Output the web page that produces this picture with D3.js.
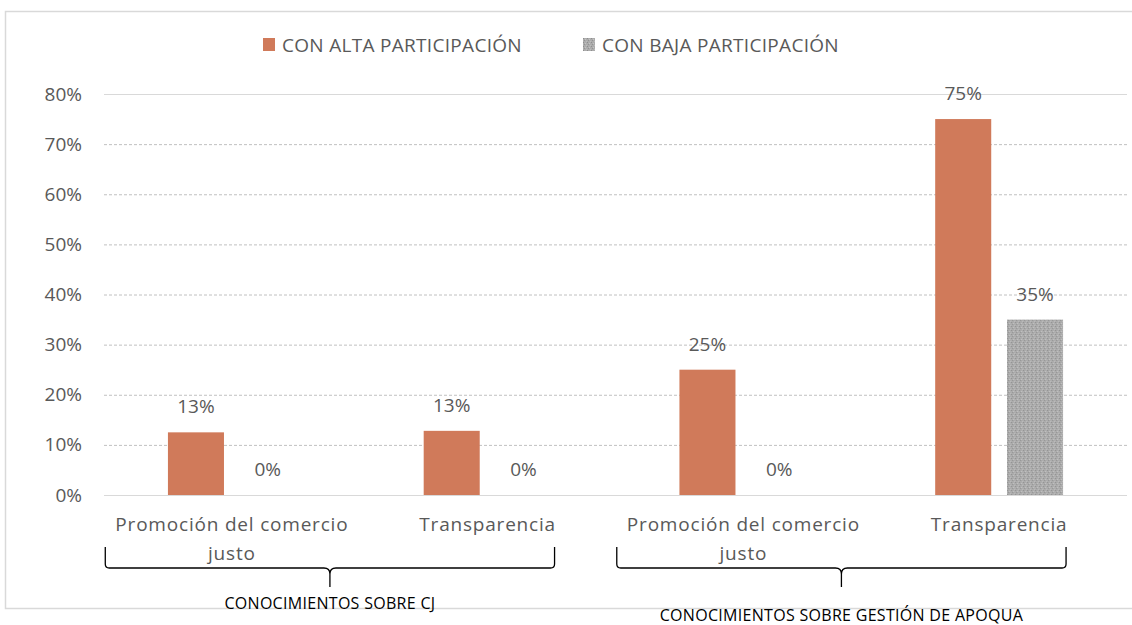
<!DOCTYPE html>
<html>
<head>
<meta charset="utf-8">
<script src="https://cdn.jsdelivr.net/npm/d3@7"></script>
<style>
  body { margin: 0; background: #fff; }
  text { font-family: "Open Sans", "Noto Sans", sans-serif; }
</style>
</head>
<body>
<div id="chart"></div>
<script>
// data
var categories = ["Promoción del comercio justo", "Transparencia", "Promoción del comercio justo ", "Transparencia "];
var seriesNames = ["CON ALTA PARTICIPACIÓN", "CON BAJA PARTICIPACIÓN"];
var altaValues = [0.125, 0.128, 0.25, 0.75];
var bajaValues = [0, 0, 0, 0.35];
var yTicks = [0, 0.1, 0.2, 0.3, 0.4, 0.5, 0.6, 0.7, 0.8];
var groups = [
  { name: "CONOCIMIENTOS SOBRE CJ", from: 0, to: 1 },
  { name: "CONOCIMIENTOS SOBRE GESTIÓN DE APOQUA", from: 2, to: 3 }
];

var W = 1132, H = 625;
var margin = { top: 94, right: 5, bottom: 130, left: 104 };
var width = W - margin.left - margin.right;
var height = H - margin.top - margin.bottom;
var colors = ["#d07a5a", "url(#grayDots)"];

var svg = d3.select("#chart").append("svg")
  .attr("width", W).attr("height", H);

// dotted texture for the grey series
var defs = svg.append("defs");
var pat = defs.append("pattern")
  .attr("id", "grayDots")
  .attr("patternUnits", "userSpaceOnUse")
  .attr("width", 4).attr("height", 4);
pat.append("rect").attr("width", 4).attr("height", 4).attr("fill", "#acacac");
pat.append("rect").attr("x", 0).attr("y", 0).attr("width", 1).attr("height", 1).attr("fill", "#8e8e8e");
pat.append("rect").attr("x", 2).attr("y", 1).attr("width", 1).attr("height", 1).attr("fill", "#c4c4c4");
pat.append("rect").attr("x", 1).attr("y", 2).attr("width", 1).attr("height", 1).attr("fill", "#939393");
pat.append("rect").attr("x", 3).attr("y", 3).attr("width", 1).attr("height", 1).attr("fill", "#bdbdbd");

// chart frame
svg.append("rect")
  .attr("x", 5.5).attr("y", 11.5)
  .attr("width", W).attr("height", 597)
  .attr("fill", "none").attr("stroke", "#d9d9d9").attr("stroke-width", 1.5);

var g = svg.append("g")
  .attr("transform", "translate(" + margin.left + "," + margin.top + ")");

var x0 = d3.scaleBand()
  .domain(categories)
  .range([0, width])
  .paddingInner(0.5)
  .paddingOuter(0.25);

var x1 = d3.scaleBand()
  .domain(seriesNames)
  .range([0, x0.bandwidth()])
  .paddingInner(0.22);

var y = d3.scaleLinear()
  .domain([0, 0.8])
  .range([height, 0]);

// y axis with gridlines
var yAxis = d3.axisLeft(y)
  .tickValues(yTicks)
  .tickFormat(d3.format(".0%"))
  .tickSize(-width)
  .tickPadding(22);

g.append("g")
  .attr("class", "y axis")
  .call(yAxis)
  .call(function(ax) {
    ax.select(".domain").remove();
    ax.selectAll(".tick line")
      .attr("stroke-dasharray", function(d) { return (d === 0.8 || d === 0) ? null : "3,2"; })
      .attr("stroke", function(d) { return (d === 0.8 || d === 0) ? "#d9d9d9" : "#c0c0c0"; });
    ax.selectAll(".tick text")
      .attr("fill", "#595959")
      .attr("font-size", 19);
  });

var data = categories.map(function(c, i) {
  return { cat: c, vals: [altaValues[i], bajaValues[i]] };
});

var cat = g.selectAll(".cat")
  .data(data)
  .enter().append("g")
  .attr("class", "cat")
  .attr("transform", function(d) { return "translate(" + x0(d.cat) + ",0)"; });

var bars = cat.selectAll(".bar")
  .data(function(d) { return d.vals.map(function(v, j) { return { s: seriesNames[j], v: v, j: j }; }); })
  .enter();

bars.append("rect")
  .attr("class", "bar")
  .attr("x", function(d) { return x1(d.s); })
  .attr("y", function(d) { return y(d.v); })
  .attr("width", x1.bandwidth())
  .attr("height", function(d) { return height - y(d.v); })
  .attr("fill", function(d) { return colors[d.j]; });

bars.append("text")
  .attr("x", function(d) { return x1(d.s) + x1.bandwidth() / 2; })
  .attr("y", function(d) { return y(d.v) - 19; })
  .attr("text-anchor", "middle")
  .attr("fill", "#595959")
  .attr("font-size", 19)
  .text(function(d) { return d3.format(".0%")(d.v); });

// category labels (wrapped)
cat.each(function(d) {
  var words = d.cat.trim().split(" ");
  var lines = words.length > 1 ? [words.slice(0, -1).join(" "), words[words.length - 1]] : words;
  var t = d3.select(this).append("text")
    .attr("x", x0.bandwidth() / 2)
    .attr("y", height + 36)
    .attr("text-anchor", "middle")
    .attr("fill", "#595959")
    .attr("font-size", 19)
    .attr("letter-spacing", 0.8);
  lines.forEach(function(l, k) {
    t.append("tspan").attr("x", x0.bandwidth() / 2).attr("dy", k === 0 ? 0 : 29).text(l);
  });
});

// legend
var legendItems = [
  { name: seriesNames[0], x: 263, color: colors[0] },
  { name: seriesNames[1], x: 583, color: colors[1] }
];
var legend = svg.selectAll(".legend")
  .data(legendItems)
  .enter().append("g")
  .attr("class", "legend")
  .attr("transform", function(d) { return "translate(" + d.x + ",38)"; });
legend.append("rect")
  .attr("y", 0).attr("width", 12).attr("height", 13)
  .attr("fill", function(d) { return d.color; });
legend.append("text")
  .attr("x", 19).attr("y", 14)
  .attr("fill", "#595959")
  .attr("font-size", 19)
  .attr("letter-spacing", 0.3)
  .text(function(d) { return d.name; });

// curly braces under each group
var bracketTop = height + 52, bracketBottom = height + 73, bracketTip = height + 92;
groups.forEach(function(gr, i) {
  var left = x0(categories[gr.from]) - x0.step() * 0.245;
  var right = x0(categories[gr.to]) + x0.bandwidth() + 3;
  var mid = (left + right) / 2;
  var path = d3.path();
  path.moveTo(left, bracketTop);
  path.lineTo(left, bracketBottom - 4);
  path.quadraticCurveTo(left, bracketBottom, left + 4, bracketBottom);
  path.lineTo(mid - 6, bracketBottom);
  path.quadraticCurveTo(mid, bracketBottom, mid, bracketBottom + 6);
  path.lineTo(mid, bracketTip);
  path.moveTo(mid, bracketBottom + 6);
  path.quadraticCurveTo(mid, bracketBottom, mid + 6, bracketBottom);
  path.lineTo(right - 4, bracketBottom);
  path.quadraticCurveTo(right, bracketBottom, right, bracketBottom - 4);
  path.lineTo(right, bracketTop);
  g.append("path")
    .attr("d", path.toString())
    .attr("fill", "none")
    .attr("stroke", "#000")
    .attr("stroke-width", 1.3);
  g.append("text")
    .attr("x", mid)
    .attr("y", i === 0 ? height + 114 : height + 126)
    .attr("text-anchor", "middle")
    .attr("fill", "#000")
    .attr("font-size", 16)
    .attr("letter-spacing", 0.3)
    .text(gr.name);
});
</script>
</body>
</html>
